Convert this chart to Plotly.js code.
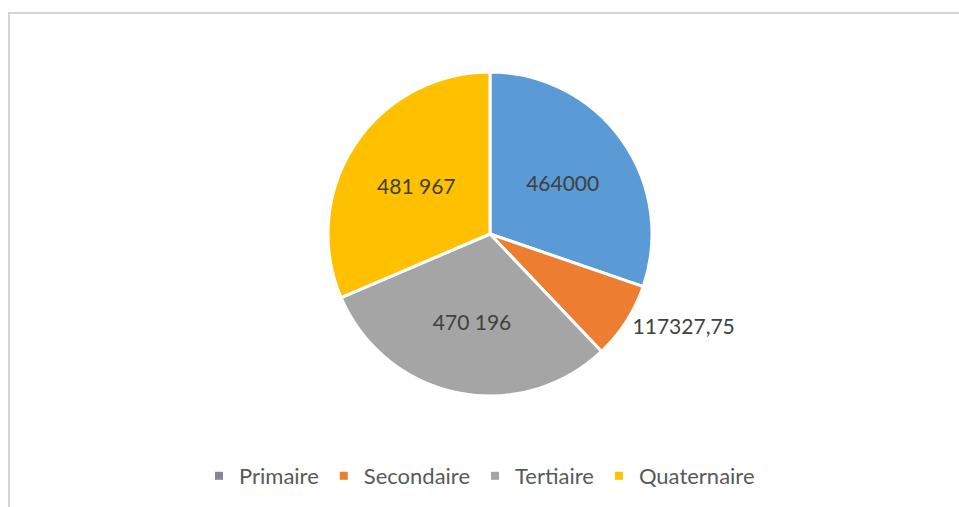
<!DOCTYPE html>
<html>
<head>
<meta charset="utf-8">
<script src="https://cdn.plot.ly/plotly-3.0.1.min.js"></script>
<style>
  html, body { margin: 0; padding: 0; background: #fff; }
  #chart { width: 959px; height: 507px; }
</style>
</head>
<body>
<div id="chart"></div>
<script>
// Données du graphique
const secteurs = ['Primaire', 'Secondaire', 'Tertiaire', 'Quaternaire'];
const valeurs = [464000, 117327.75, 470196, 481967];
const etiquettes = ['464000', '117327,75', '470 196', '481 967'];
const couleurs = ['#5B9BD5', '#ED7D31', '#A5A5A5', '#FFC000'];
const couleursLegende = ['#868696', '#ED7D31', '#A5A5A5', '#FFC000'];
const positionsTexte = ['inside', 'outside', 'inside', 'inside'];

const W = 959, H = 507;
const cx = 490, cy = 234, r = 162;

const camembert = {
  type: 'pie',
  labels: secteurs,
  values: valeurs,
  text: etiquettes,
  textinfo: 'text',
  textposition: positionsTexte,
  insidetextorientation: 'horizontal',
  sort: false,
  direction: 'clockwise',
  rotation: 0,
  marker: { colors: couleurs, line: { color: '#ffffff', width: 3 } },
  textfont: { family: 'Lato, sans-serif', size: 21, color: '#404040' },
  showlegend: false,
  hoverinfo: 'label+value',
  domain: {
    x: [(cx - r) / W, (cx + r) / W],
    y: [(H - cy - r) / H, (H - cy + r) / H],
  },
};

// Légende : un carré par secteur
const legende = secteurs.map((s, i) => ({
  type: 'scatter',
  mode: 'markers',
  x: [null],
  y: [null],
  name: s,
  marker: { symbol: 'square', size: 8, color: couleursLegende[i] },
  hoverinfo: 'skip',
}));

const layout = {
  width: W,
  height: H,
  margin: { l: 0, r: 0, t: 0, b: 0 },
  paper_bgcolor: '#ffffff',
  plot_bgcolor: '#ffffff',
  xaxis: { visible: false },
  yaxis: { visible: false },
  showlegend: true,
  legend: {
    orientation: 'h',
    x: 0.5,
    xanchor: 'center',
    y: (H - 476) / H,
    yanchor: 'middle',
    font: { family: 'Lato, sans-serif', size: 22, color: '#595959' },
    itemwidth: 20,
    tracegroupgap: 0,
  },
  shapes: [{
    type: 'rect', xref: 'paper', yref: 'paper',
    x0: 9 / W, x1: 1.02, y0: -0.02, y1: (H - 13) / H,
    line: { color: '#d4d4d4', width: 2 },
  }],
};

Plotly.newPlot('chart', [camembert, ...legende], layout, { displayModeBar: false, staticPlot: true });
</script>
</body>
</html>
